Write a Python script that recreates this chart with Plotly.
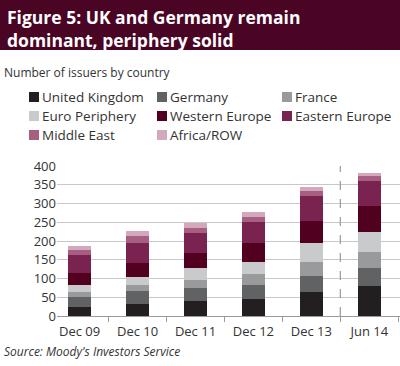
import plotly.graph_objects as go

categories = ["Dec 09", "Dec 10", "Dec 11", "Dec 12", "Dec 13", "Jun 14"]
series_names = ["United Kingdom", "Germany", "France", "Euro Periphery",
                "Western Europe", "Eastern Europe", "Middle East", "Africa/ROW"]
uk = [24, 33, 40, 46, 64, 79]
germany = [26, 33, 34, 38, 44, 49]
france = [14, 16, 22, 28, 35, 44]
euro_periphery = [19, 21, 32, 33, 53, 53]
western_europe = [33, 38, 40, 49, 57, 68]
eastern_europe = [46, 54, 53, 56, 66, 68]
middle_east = [13, 18, 13, 14, 14, 12]
africa_row = [11, 13, 14, 13, 10, 9]
y_ticks = [0, 50, 100, 150, 200, 250, 300, 350, 400]

values = [uk, germany, france, euro_periphery, western_europe,
          eastern_europe, middle_east, africa_row]
colors = ["#231f20", "#616264", "#999a9c", "#c9cacc",
          "#52001f", "#7a2350", "#a65f80", "#d3a8bc"]

FONT = "Open Sans"
W, H = 400, 366
L, R, T, B = 57, 0, 166, 50
PW, PH = W - L - R, H - T - B


def px(x):
    return (x - L) / PW


def py(y):
    return (H - B - y) / PH


fig = go.Figure()
for name, vals, col in zip(series_names, values, colors):
    fig.add_trace(go.Bar(x=categories, y=vals, name=name, marker_color=col,
                         marker_line_width=0, width=0.4, showlegend=False))

shapes = []
annotations = []
# title band
shapes.append(dict(type="rect", xref="paper", yref="paper", x0=px(0), x1=px(W),
                   y0=py(50), y1=py(0), fillcolor="#4a0424", line_width=0, layer="below"))
annotations.append(dict(xref="paper", yref="paper", x=px(5), y=py(28), xanchor="left",
                        yanchor="middle",
                        text="<b>Figure 5: UK and Germany remain<br>dominant, periphery solid</b>",
                        showarrow=False, align="left",
                        font=dict(family=FONT, size=17.5, color="white")))
annotations.append(dict(xref="paper", yref="paper", x=px(2), y=py(73), xanchor="left", yanchor="middle",
                        text="Number of issuers by country", showarrow=False,
                        font=dict(family=FONT, size=12, color="#333333")))
annotations.append(dict(xref="paper", yref="paper", x=px(2), y=py(351), xanchor="left", yanchor="middle",
                        text="<i>Source: Moody's Investors Service</i>", showarrow=False,
                        font=dict(family=FONT, size=12, color="#333333")))

# legend (manual)
col_x = [29, 157, 282]
row_y = [97, 116, 135]
for i, (name, col) in enumerate(zip(series_names, colors)):
    cx = col_x[i % 3]
    cy = row_y[i // 3]
    shapes.append(dict(type="rect", xref="paper", yref="paper", x0=px(cx), x1=px(cx + 10),
                       y0=py(cy + 5), y1=py(cy - 5), fillcolor=col, line_width=0))
    annotations.append(dict(xref="paper", yref="paper", x=px(cx + 11), y=py(cy), xanchor="left",
                            yanchor="middle", text=name, showarrow=False,
                            font=dict(family=FONT, size=13.5, color="#333333")))

# dashed separator
shapes.append(dict(type="line", xref="x", yref="y", x0=4.5, x1=4.5, y0=0, y1=400,
                   line=dict(color="#9a9a9a", width=1.2, dash="dash")))

fig.update_layout(
    width=W, height=H, barmode="stack", bargap=0.6,
    margin=dict(l=L, r=R, t=T, b=B),
    paper_bgcolor="white", plot_bgcolor="white",
    shapes=shapes, annotations=annotations,
    font=dict(family=FONT, color="#333333"),
    xaxis=dict(range=[-0.39, 5.53], showline=True, linecolor="#9a9a9a", linewidth=1.2,
               ticks="outside", tickson="boundaries", ticklen=5, tickcolor="#9a9a9a",
               ticklabelstandoff=3,
               tickfont=dict(family=FONT, size=13, color="#333333"), showgrid=False),
    yaxis=dict(range=[0, 400], tickvals=y_ticks, showgrid=True, gridcolor="#c8c8c8",
               gridwidth=1.3, zeroline=False, showline=False,
               tickfont=dict(family=FONT, size=13, color="#333333")),
)

fig.write_html("out.html", config={"displayModeBar": False},
               post_script="document.body.style.margin='0';document.body.style.padding='0';")
